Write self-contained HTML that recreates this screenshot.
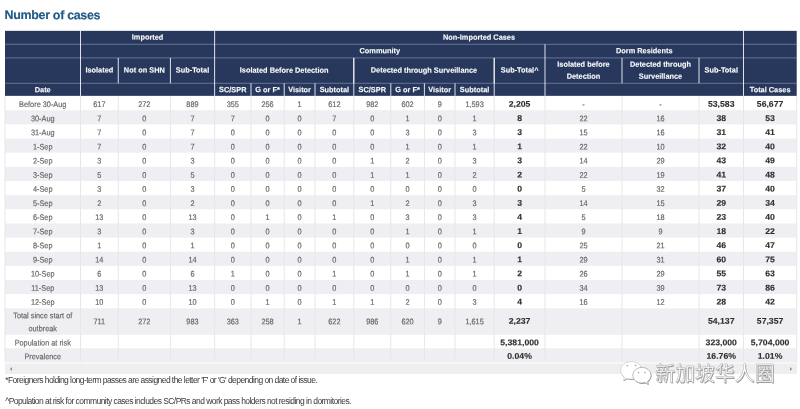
<!DOCTYPE html>
<html><head><meta charset="utf-8"><title>Number of cases</title>
<style>
html,body{margin:0;padding:0;background:#fff;}
body{width:800px;height:409px;overflow:hidden;position:relative;font-family:"Liberation Sans",sans-serif;}
div{position:absolute;box-sizing:border-box;}
h1{position:absolute;left:0;top:0;transform-origin:0 0;transform:translate(4.5px,8.1px) rotate(0.03deg);margin:0;font-size:12.45px;line-height:15px;font-weight:bold;color:#1e5985;-webkit-text-stroke:0.15px #1e5985;letter-spacing:-0.3px;white-space:nowrap;}
#w{left:0;top:0;width:800px;height:409px;will-change:transform;}
.c{left:0;top:0;text-align:center;white-space:nowrap;transform-origin:0 0;}
.d{font-size:8.1px;color:#666;-webkit-text-stroke:0.18px #666;line-height:10px;}
.b{font-size:8.3px;color:#2e2e2e;-webkit-text-stroke:0.12px #2e2e2e;font-weight:bold;line-height:10px;}
.h{font-size:7.6px;color:#f8fafc;-webkit-text-stroke:0.12px #f8fafc;font-weight:bold;line-height:11px;}
.st{background:#efeff3;}
.vl{background:#e1e1e4;}
.hb{background:#27375c;}
.hh{background:rgba(255,255,255,0.27);}
.hv{background:rgba(255,255,255,0.85);}
.scroll{left:5px;top:362.2px;width:791.7px;height:12.3px;background:linear-gradient(#f6f6f7 0,#f6f6f7 2.3px,#eeeeee 2.3px,#efefef 100%);}
.al{left:9.5px;top:367.3px;width:0;height:0;border:2.2px solid transparent;border-right:2.6px solid #8c8c8c;border-left:0;}
.ar{left:790px;top:367.3px;width:0;height:0;border:2.2px solid transparent;border-left:2.4px solid #8a8a8a;border-right:0;}
.fn{left:0;top:0;font-size:8.5px;color:#383838;letter-spacing:-0.56px;white-space:nowrap;line-height:10px;transform-origin:0 0;}
</style></head><body>
<div id="w"><svg width="800" height="409" viewBox="0 0 800 409" style="position:absolute;left:0;top:0"><rect x="5.00" y="110.25" width="791.70" height="14.15" fill="#efeff3"/><rect x="5.00" y="138.54" width="791.70" height="14.15" fill="#efeff3"/><rect x="5.00" y="166.83" width="791.70" height="14.15" fill="#efeff3"/><rect x="5.00" y="195.13" width="791.70" height="14.15" fill="#efeff3"/><rect x="5.00" y="223.42" width="791.70" height="14.15" fill="#efeff3"/><rect x="5.00" y="251.72" width="791.70" height="14.15" fill="#efeff3"/><rect x="5.00" y="280.01" width="791.70" height="14.15" fill="#efeff3"/><rect x="5.00" y="308.31" width="791.70" height="26.50" fill="#efeff3"/><rect x="5.00" y="348.30" width="791.70" height="13.90" fill="#efeff3"/><rect x="4.50" y="95.85" width="1.00" height="266.35" fill="#e7e7ea"/><rect x="80.00" y="95.85" width="1.00" height="266.35" fill="#e7e7ea"/><rect x="117.75" y="95.85" width="1.00" height="266.35" fill="#e7e7ea"/><rect x="169.90" y="95.85" width="1.00" height="266.35" fill="#e7e7ea"/><rect x="214.10" y="95.85" width="1.00" height="266.35" fill="#e7e7ea"/><rect x="250.50" y="95.85" width="1.00" height="266.35" fill="#e7e7ea"/><rect x="283.70" y="95.85" width="1.00" height="266.35" fill="#e7e7ea"/><rect x="314.50" y="95.85" width="1.00" height="266.35" fill="#e7e7ea"/><rect x="353.30" y="95.85" width="1.00" height="266.35" fill="#e7e7ea"/><rect x="390.30" y="95.85" width="1.00" height="266.35" fill="#e7e7ea"/><rect x="423.90" y="95.85" width="1.00" height="266.35" fill="#e7e7ea"/><rect x="454.50" y="95.85" width="1.00" height="266.35" fill="#e7e7ea"/><rect x="493.70" y="95.85" width="1.00" height="266.35" fill="#e7e7ea"/><rect x="544.50" y="95.85" width="1.00" height="266.35" fill="#e7e7ea"/><rect x="621.50" y="95.85" width="1.00" height="266.35" fill="#e7e7ea"/><rect x="698.50" y="95.85" width="1.00" height="266.35" fill="#e7e7ea"/><rect x="743.00" y="95.85" width="1.00" height="266.35" fill="#e7e7ea"/><rect x="796.20" y="95.85" width="1.00" height="266.35" fill="#e7e7ea"/><rect x="5.00" y="30.85" width="791.70" height="65.00" fill="#28385c"/><rect x="5.00" y="43.80" width="791.70" height="1.00" fill="rgba(205,220,255,0.36)"/><rect x="5.00" y="57.40" width="791.70" height="1.00" fill="rgba(205,220,255,0.36)"/><rect x="5.00" y="82.80" width="791.70" height="1.00" fill="rgba(205,220,255,0.36)"/><rect x="80.00" y="30.85" width="1.00" height="65.00" fill="rgba(255,255,255,0.85)"/><rect x="214.10" y="30.85" width="1.00" height="65.00" fill="rgba(255,255,255,0.85)"/><rect x="743.00" y="30.85" width="1.00" height="65.00" fill="rgba(255,255,255,0.85)"/><rect x="544.50" y="44.30" width="1.00" height="51.55" fill="rgba(255,255,255,0.85)"/><rect x="117.75" y="57.90" width="1.00" height="25.40" fill="rgba(255,255,255,0.85)"/><rect x="169.90" y="57.90" width="1.00" height="25.40" fill="rgba(255,255,255,0.85)"/><rect x="353.30" y="57.90" width="1.00" height="25.40" fill="rgba(255,255,255,0.85)"/><rect x="493.70" y="57.90" width="1.00" height="25.40" fill="rgba(255,255,255,0.85)"/><rect x="621.50" y="57.90" width="1.00" height="25.40" fill="rgba(255,255,255,0.85)"/><rect x="698.50" y="57.90" width="1.00" height="25.40" fill="rgba(255,255,255,0.85)"/><rect x="353.30" y="57.90" width="1.00" height="37.95" fill="rgba(255,255,255,0.85)"/><rect x="493.70" y="57.90" width="1.00" height="37.95" fill="rgba(255,255,255,0.85)"/><rect x="250.50" y="83.30" width="1.00" height="12.55" fill="rgba(255,255,255,0.85)"/><rect x="283.70" y="83.30" width="1.00" height="12.55" fill="rgba(255,255,255,0.85)"/><rect x="314.50" y="83.30" width="1.00" height="12.55" fill="rgba(255,255,255,0.85)"/><rect x="390.30" y="83.30" width="1.00" height="12.55" fill="rgba(255,255,255,0.85)"/><rect x="423.90" y="83.30" width="1.00" height="12.55" fill="rgba(255,255,255,0.85)"/><rect x="454.50" y="83.30" width="1.00" height="12.55" fill="rgba(255,255,255,0.85)"/></svg>
<h1>Number of cases</h1>
<div class="c h" style="width:138.25px;height:11px;line-height:11px;transform:translate(80.50px,31.58px) rotate(0.04deg) scale(0.97,1)">Imported</div>
<div class="c h" style="width:545.26px;height:11px;line-height:11px;transform:translate(214.60px,31.58px) rotate(0.04deg) scale(0.97,1)">Non-Imported Cases</div>
<div class="c h" style="width:340.62px;height:11px;line-height:11px;transform:translate(214.60px,45.10px) rotate(0.04deg) scale(0.97,1)">Community</div>
<div class="c h" style="width:204.64px;height:11px;line-height:11px;transform:translate(545.00px,45.10px) rotate(0.04deg) scale(0.97,1)">Dorm Residents</div>
<div class="c h" style="width:38.92px;height:11px;line-height:11px;transform:translate(80.50px,64.60px) rotate(0.04deg) scale(0.97,1)">Isolated</div>
<div class="c h" style="width:53.76px;height:11px;line-height:11px;transform:translate(118.25px,64.60px) rotate(0.04deg) scale(0.97,1)">Not on SHN</div>
<div class="c h" style="width:45.57px;height:11px;line-height:11px;transform:translate(170.40px,64.60px) rotate(0.04deg) scale(0.97,1)">Sub-Total</div>
<div class="c h" style="width:143.51px;height:11px;line-height:11px;transform:translate(214.60px,64.60px) rotate(0.04deg) scale(0.97,1)">Isolated Before Detection</div>
<div class="c h" style="width:144.74px;height:11px;line-height:11px;transform:translate(353.80px,64.60px) rotate(0.04deg) scale(0.97,1)">Detected through Surveillance</div>
<div class="c h" style="width:52.37px;height:11px;line-height:11px;transform:translate(494.20px,64.60px) rotate(0.04deg) scale(0.97,1)">Sub-Total^</div>
<div class="c h" style="width:79.38px;height:24px;line-height:12px;transform:translate(545.00px,58.80px) rotate(0.04deg) scale(0.97,1)">Isolated before<br>Detection</div>
<div class="c h" style="width:79.38px;height:24px;line-height:12px;transform:translate(622.00px,58.80px) rotate(0.04deg) scale(0.97,1)">Detected through<br>Surveillance</div>
<div class="c h" style="width:45.88px;height:11px;line-height:11px;transform:translate(699.00px,64.60px) rotate(0.04deg) scale(0.97,1)">Sub-Total</div>
<div class="c h" style="width:77.84px;height:11px;line-height:11px;transform:translate(5.00px,84.12px) rotate(0.04deg) scale(0.97,1)">Date</div>
<div class="c h" style="width:37.53px;height:11px;line-height:11px;transform:translate(214.60px,84.12px) rotate(0.04deg) scale(0.97,1)">SC/SPR</div>
<div class="c h" style="width:34.23px;height:11px;line-height:11px;transform:translate(251.00px,84.12px) rotate(0.04deg) scale(0.97,1)">G or F*</div>
<div class="c h" style="width:31.75px;height:11px;line-height:11px;transform:translate(284.20px,84.12px) rotate(0.04deg) scale(0.97,1)">Visitor</div>
<div class="c h" style="width:40.00px;height:11px;line-height:11px;transform:translate(315.00px,84.12px) rotate(0.04deg) scale(0.97,1)">Subtotal</div>
<div class="c h" style="width:38.14px;height:11px;line-height:11px;transform:translate(353.80px,84.12px) rotate(0.04deg) scale(0.97,1)">SC/SPR</div>
<div class="c h" style="width:34.64px;height:11px;line-height:11px;transform:translate(390.80px,84.12px) rotate(0.04deg) scale(0.97,1)">G or F*</div>
<div class="c h" style="width:31.55px;height:11px;line-height:11px;transform:translate(424.40px,84.12px) rotate(0.04deg) scale(0.97,1)">Visitor</div>
<div class="c h" style="width:40.41px;height:11px;line-height:11px;transform:translate(455.00px,84.12px) rotate(0.04deg) scale(0.97,1)">Subtotal</div>
<div class="c h" style="width:54.85px;height:11px;line-height:11px;transform:translate(743.50px,84.12px) rotate(0.04deg) scale(0.97,1)">Total Cases</div>
<div class="c d" style="width:83.43px;height:10px;line-height:10px;transform:translate(5.00px,100.03px) rotate(0.04deg) scale(0.905,1)">Before 30-Aug</div>
<div class="c d" style="width:41.71px;height:10px;line-height:10px;transform:translate(80.50px,100.03px) rotate(0.04deg) scale(0.905,1)">617</div>
<div class="c d" style="width:57.62px;height:10px;line-height:10px;transform:translate(118.25px,100.03px) rotate(0.04deg) scale(0.905,1)">272</div>
<div class="c d" style="width:48.84px;height:10px;line-height:10px;transform:translate(170.40px,100.03px) rotate(0.04deg) scale(0.905,1)">889</div>
<div class="c d" style="width:40.22px;height:10px;line-height:10px;transform:translate(214.60px,100.03px) rotate(0.04deg) scale(0.905,1)">355</div>
<div class="c d" style="width:36.69px;height:10px;line-height:10px;transform:translate(251.00px,100.03px) rotate(0.04deg) scale(0.905,1)">256</div>
<div class="c d" style="width:34.03px;height:10px;line-height:10px;transform:translate(284.20px,100.03px) rotate(0.04deg) scale(0.905,1)">1</div>
<div class="c d" style="width:42.87px;height:10px;line-height:10px;transform:translate(315.00px,100.03px) rotate(0.04deg) scale(0.905,1)">612</div>
<div class="c d" style="width:40.88px;height:10px;line-height:10px;transform:translate(353.80px,100.03px) rotate(0.04deg) scale(0.905,1)">982</div>
<div class="c d" style="width:37.13px;height:10px;line-height:10px;transform:translate(390.80px,100.03px) rotate(0.04deg) scale(0.905,1)">602</div>
<div class="c d" style="width:33.81px;height:10px;line-height:10px;transform:translate(424.40px,100.03px) rotate(0.04deg) scale(0.905,1)">9</div>
<div class="c d" style="width:43.31px;height:10px;line-height:10px;transform:translate(455.00px,100.03px) rotate(0.04deg) scale(0.905,1)">1,593</div>
<div class="c b" style="width:48.61px;height:10px;line-height:10px;transform:translate(494.20px,98.75px) rotate(0.04deg) scale(1.045,1)">2,205</div>
<div class="c d" style="width:85.08px;height:10px;line-height:10px;transform:translate(545.00px,100.03px) rotate(0.04deg) scale(0.905,1)">-</div>
<div class="c d" style="width:85.08px;height:10px;line-height:10px;transform:translate(622.00px,100.03px) rotate(0.04deg) scale(0.905,1)">-</div>
<div class="c b" style="width:42.58px;height:10px;line-height:10px;transform:translate(699.00px,98.75px) rotate(0.04deg) scale(1.045,1)">53,583</div>
<div class="c b" style="width:50.91px;height:10px;line-height:10px;transform:translate(743.50px,98.75px) rotate(0.04deg) scale(1.045,1)">56,677</div>
<div class="c d" style="width:83.43px;height:10px;line-height:10px;transform:translate(5.00px,114.16px) rotate(0.04deg) scale(0.905,1)">30-Aug</div>
<div class="c d" style="width:41.71px;height:10px;line-height:10px;transform:translate(80.50px,114.16px) rotate(0.04deg) scale(0.905,1)">7</div>
<div class="c d" style="width:57.62px;height:10px;line-height:10px;transform:translate(118.25px,114.16px) rotate(0.04deg) scale(0.905,1)">0</div>
<div class="c d" style="width:48.84px;height:10px;line-height:10px;transform:translate(170.40px,114.16px) rotate(0.04deg) scale(0.905,1)">7</div>
<div class="c d" style="width:40.22px;height:10px;line-height:10px;transform:translate(214.60px,114.16px) rotate(0.04deg) scale(0.905,1)">7</div>
<div class="c d" style="width:36.69px;height:10px;line-height:10px;transform:translate(251.00px,114.16px) rotate(0.04deg) scale(0.905,1)">0</div>
<div class="c d" style="width:34.03px;height:10px;line-height:10px;transform:translate(284.20px,114.16px) rotate(0.04deg) scale(0.905,1)">0</div>
<div class="c d" style="width:42.87px;height:10px;line-height:10px;transform:translate(315.00px,114.16px) rotate(0.04deg) scale(0.905,1)">7</div>
<div class="c d" style="width:40.88px;height:10px;line-height:10px;transform:translate(353.80px,114.16px) rotate(0.04deg) scale(0.905,1)">0</div>
<div class="c d" style="width:37.13px;height:10px;line-height:10px;transform:translate(390.80px,114.16px) rotate(0.04deg) scale(0.905,1)">1</div>
<div class="c d" style="width:33.81px;height:10px;line-height:10px;transform:translate(424.40px,114.16px) rotate(0.04deg) scale(0.905,1)">0</div>
<div class="c d" style="width:43.31px;height:10px;line-height:10px;transform:translate(455.00px,114.16px) rotate(0.04deg) scale(0.905,1)">1</div>
<div class="c b" style="width:48.61px;height:10px;line-height:10px;transform:translate(494.20px,112.88px) rotate(0.04deg) scale(1.045,1)">8</div>
<div class="c d" style="width:85.08px;height:10px;line-height:10px;transform:translate(545.00px,114.16px) rotate(0.04deg) scale(0.905,1)">22</div>
<div class="c d" style="width:85.08px;height:10px;line-height:10px;transform:translate(622.00px,114.16px) rotate(0.04deg) scale(0.905,1)">16</div>
<div class="c b" style="width:42.58px;height:10px;line-height:10px;transform:translate(699.00px,112.88px) rotate(0.04deg) scale(1.045,1)">38</div>
<div class="c b" style="width:50.91px;height:10px;line-height:10px;transform:translate(743.50px,112.88px) rotate(0.04deg) scale(1.045,1)">53</div>
<div class="c d" style="width:83.43px;height:10px;line-height:10px;transform:translate(5.00px,128.28px) rotate(0.04deg) scale(0.905,1)">31-Aug</div>
<div class="c d" style="width:41.71px;height:10px;line-height:10px;transform:translate(80.50px,128.28px) rotate(0.04deg) scale(0.905,1)">7</div>
<div class="c d" style="width:57.62px;height:10px;line-height:10px;transform:translate(118.25px,128.28px) rotate(0.04deg) scale(0.905,1)">0</div>
<div class="c d" style="width:48.84px;height:10px;line-height:10px;transform:translate(170.40px,128.28px) rotate(0.04deg) scale(0.905,1)">7</div>
<div class="c d" style="width:40.22px;height:10px;line-height:10px;transform:translate(214.60px,128.28px) rotate(0.04deg) scale(0.905,1)">0</div>
<div class="c d" style="width:36.69px;height:10px;line-height:10px;transform:translate(251.00px,128.28px) rotate(0.04deg) scale(0.905,1)">0</div>
<div class="c d" style="width:34.03px;height:10px;line-height:10px;transform:translate(284.20px,128.28px) rotate(0.04deg) scale(0.905,1)">0</div>
<div class="c d" style="width:42.87px;height:10px;line-height:10px;transform:translate(315.00px,128.28px) rotate(0.04deg) scale(0.905,1)">0</div>
<div class="c d" style="width:40.88px;height:10px;line-height:10px;transform:translate(353.80px,128.28px) rotate(0.04deg) scale(0.905,1)">0</div>
<div class="c d" style="width:37.13px;height:10px;line-height:10px;transform:translate(390.80px,128.28px) rotate(0.04deg) scale(0.905,1)">3</div>
<div class="c d" style="width:33.81px;height:10px;line-height:10px;transform:translate(424.40px,128.28px) rotate(0.04deg) scale(0.905,1)">0</div>
<div class="c d" style="width:43.31px;height:10px;line-height:10px;transform:translate(455.00px,128.28px) rotate(0.04deg) scale(0.905,1)">3</div>
<div class="c b" style="width:48.61px;height:10px;line-height:10px;transform:translate(494.20px,127.00px) rotate(0.04deg) scale(1.045,1)">3</div>
<div class="c d" style="width:85.08px;height:10px;line-height:10px;transform:translate(545.00px,128.28px) rotate(0.04deg) scale(0.905,1)">15</div>
<div class="c d" style="width:85.08px;height:10px;line-height:10px;transform:translate(622.00px,128.28px) rotate(0.04deg) scale(0.905,1)">16</div>
<div class="c b" style="width:42.58px;height:10px;line-height:10px;transform:translate(699.00px,127.00px) rotate(0.04deg) scale(1.045,1)">31</div>
<div class="c b" style="width:50.91px;height:10px;line-height:10px;transform:translate(743.50px,127.00px) rotate(0.04deg) scale(1.045,1)">41</div>
<div class="c d" style="width:83.43px;height:10px;line-height:10px;transform:translate(5.00px,142.41px) rotate(0.04deg) scale(0.905,1)">1-Sep</div>
<div class="c d" style="width:41.71px;height:10px;line-height:10px;transform:translate(80.50px,142.41px) rotate(0.04deg) scale(0.905,1)">7</div>
<div class="c d" style="width:57.62px;height:10px;line-height:10px;transform:translate(118.25px,142.41px) rotate(0.04deg) scale(0.905,1)">0</div>
<div class="c d" style="width:48.84px;height:10px;line-height:10px;transform:translate(170.40px,142.41px) rotate(0.04deg) scale(0.905,1)">7</div>
<div class="c d" style="width:40.22px;height:10px;line-height:10px;transform:translate(214.60px,142.41px) rotate(0.04deg) scale(0.905,1)">0</div>
<div class="c d" style="width:36.69px;height:10px;line-height:10px;transform:translate(251.00px,142.41px) rotate(0.04deg) scale(0.905,1)">0</div>
<div class="c d" style="width:34.03px;height:10px;line-height:10px;transform:translate(284.20px,142.41px) rotate(0.04deg) scale(0.905,1)">0</div>
<div class="c d" style="width:42.87px;height:10px;line-height:10px;transform:translate(315.00px,142.41px) rotate(0.04deg) scale(0.905,1)">0</div>
<div class="c d" style="width:40.88px;height:10px;line-height:10px;transform:translate(353.80px,142.41px) rotate(0.04deg) scale(0.905,1)">0</div>
<div class="c d" style="width:37.13px;height:10px;line-height:10px;transform:translate(390.80px,142.41px) rotate(0.04deg) scale(0.905,1)">1</div>
<div class="c d" style="width:33.81px;height:10px;line-height:10px;transform:translate(424.40px,142.41px) rotate(0.04deg) scale(0.905,1)">0</div>
<div class="c d" style="width:43.31px;height:10px;line-height:10px;transform:translate(455.00px,142.41px) rotate(0.04deg) scale(0.905,1)">1</div>
<div class="c b" style="width:48.61px;height:10px;line-height:10px;transform:translate(494.20px,141.13px) rotate(0.04deg) scale(1.045,1)">1</div>
<div class="c d" style="width:85.08px;height:10px;line-height:10px;transform:translate(545.00px,142.41px) rotate(0.04deg) scale(0.905,1)">22</div>
<div class="c d" style="width:85.08px;height:10px;line-height:10px;transform:translate(622.00px,142.41px) rotate(0.04deg) scale(0.905,1)">10</div>
<div class="c b" style="width:42.58px;height:10px;line-height:10px;transform:translate(699.00px,141.13px) rotate(0.04deg) scale(1.045,1)">32</div>
<div class="c b" style="width:50.91px;height:10px;line-height:10px;transform:translate(743.50px,141.13px) rotate(0.04deg) scale(1.045,1)">40</div>
<div class="c d" style="width:83.43px;height:10px;line-height:10px;transform:translate(5.00px,156.54px) rotate(0.04deg) scale(0.905,1)">2-Sep</div>
<div class="c d" style="width:41.71px;height:10px;line-height:10px;transform:translate(80.50px,156.54px) rotate(0.04deg) scale(0.905,1)">3</div>
<div class="c d" style="width:57.62px;height:10px;line-height:10px;transform:translate(118.25px,156.54px) rotate(0.04deg) scale(0.905,1)">0</div>
<div class="c d" style="width:48.84px;height:10px;line-height:10px;transform:translate(170.40px,156.54px) rotate(0.04deg) scale(0.905,1)">3</div>
<div class="c d" style="width:40.22px;height:10px;line-height:10px;transform:translate(214.60px,156.54px) rotate(0.04deg) scale(0.905,1)">0</div>
<div class="c d" style="width:36.69px;height:10px;line-height:10px;transform:translate(251.00px,156.54px) rotate(0.04deg) scale(0.905,1)">0</div>
<div class="c d" style="width:34.03px;height:10px;line-height:10px;transform:translate(284.20px,156.54px) rotate(0.04deg) scale(0.905,1)">0</div>
<div class="c d" style="width:42.87px;height:10px;line-height:10px;transform:translate(315.00px,156.54px) rotate(0.04deg) scale(0.905,1)">0</div>
<div class="c d" style="width:40.88px;height:10px;line-height:10px;transform:translate(353.80px,156.54px) rotate(0.04deg) scale(0.905,1)">1</div>
<div class="c d" style="width:37.13px;height:10px;line-height:10px;transform:translate(390.80px,156.54px) rotate(0.04deg) scale(0.905,1)">2</div>
<div class="c d" style="width:33.81px;height:10px;line-height:10px;transform:translate(424.40px,156.54px) rotate(0.04deg) scale(0.905,1)">0</div>
<div class="c d" style="width:43.31px;height:10px;line-height:10px;transform:translate(455.00px,156.54px) rotate(0.04deg) scale(0.905,1)">3</div>
<div class="c b" style="width:48.61px;height:10px;line-height:10px;transform:translate(494.20px,155.26px) rotate(0.04deg) scale(1.045,1)">3</div>
<div class="c d" style="width:85.08px;height:10px;line-height:10px;transform:translate(545.00px,156.54px) rotate(0.04deg) scale(0.905,1)">14</div>
<div class="c d" style="width:85.08px;height:10px;line-height:10px;transform:translate(622.00px,156.54px) rotate(0.04deg) scale(0.905,1)">29</div>
<div class="c b" style="width:42.58px;height:10px;line-height:10px;transform:translate(699.00px,155.26px) rotate(0.04deg) scale(1.045,1)">43</div>
<div class="c b" style="width:50.91px;height:10px;line-height:10px;transform:translate(743.50px,155.26px) rotate(0.04deg) scale(1.045,1)">49</div>
<div class="c d" style="width:83.43px;height:10px;line-height:10px;transform:translate(5.00px,170.66px) rotate(0.04deg) scale(0.905,1)">3-Sep</div>
<div class="c d" style="width:41.71px;height:10px;line-height:10px;transform:translate(80.50px,170.66px) rotate(0.04deg) scale(0.905,1)">5</div>
<div class="c d" style="width:57.62px;height:10px;line-height:10px;transform:translate(118.25px,170.66px) rotate(0.04deg) scale(0.905,1)">0</div>
<div class="c d" style="width:48.84px;height:10px;line-height:10px;transform:translate(170.40px,170.66px) rotate(0.04deg) scale(0.905,1)">5</div>
<div class="c d" style="width:40.22px;height:10px;line-height:10px;transform:translate(214.60px,170.66px) rotate(0.04deg) scale(0.905,1)">0</div>
<div class="c d" style="width:36.69px;height:10px;line-height:10px;transform:translate(251.00px,170.66px) rotate(0.04deg) scale(0.905,1)">0</div>
<div class="c d" style="width:34.03px;height:10px;line-height:10px;transform:translate(284.20px,170.66px) rotate(0.04deg) scale(0.905,1)">0</div>
<div class="c d" style="width:42.87px;height:10px;line-height:10px;transform:translate(315.00px,170.66px) rotate(0.04deg) scale(0.905,1)">0</div>
<div class="c d" style="width:40.88px;height:10px;line-height:10px;transform:translate(353.80px,170.66px) rotate(0.04deg) scale(0.905,1)">1</div>
<div class="c d" style="width:37.13px;height:10px;line-height:10px;transform:translate(390.80px,170.66px) rotate(0.04deg) scale(0.905,1)">1</div>
<div class="c d" style="width:33.81px;height:10px;line-height:10px;transform:translate(424.40px,170.66px) rotate(0.04deg) scale(0.905,1)">0</div>
<div class="c d" style="width:43.31px;height:10px;line-height:10px;transform:translate(455.00px,170.66px) rotate(0.04deg) scale(0.905,1)">2</div>
<div class="c b" style="width:48.61px;height:10px;line-height:10px;transform:translate(494.20px,169.38px) rotate(0.04deg) scale(1.045,1)">2</div>
<div class="c d" style="width:85.08px;height:10px;line-height:10px;transform:translate(545.00px,170.66px) rotate(0.04deg) scale(0.905,1)">22</div>
<div class="c d" style="width:85.08px;height:10px;line-height:10px;transform:translate(622.00px,170.66px) rotate(0.04deg) scale(0.905,1)">19</div>
<div class="c b" style="width:42.58px;height:10px;line-height:10px;transform:translate(699.00px,169.38px) rotate(0.04deg) scale(1.045,1)">41</div>
<div class="c b" style="width:50.91px;height:10px;line-height:10px;transform:translate(743.50px,169.38px) rotate(0.04deg) scale(1.045,1)">48</div>
<div class="c d" style="width:83.43px;height:10px;line-height:10px;transform:translate(5.00px,184.79px) rotate(0.04deg) scale(0.905,1)">4-Sep</div>
<div class="c d" style="width:41.71px;height:10px;line-height:10px;transform:translate(80.50px,184.79px) rotate(0.04deg) scale(0.905,1)">3</div>
<div class="c d" style="width:57.62px;height:10px;line-height:10px;transform:translate(118.25px,184.79px) rotate(0.04deg) scale(0.905,1)">0</div>
<div class="c d" style="width:48.84px;height:10px;line-height:10px;transform:translate(170.40px,184.79px) rotate(0.04deg) scale(0.905,1)">3</div>
<div class="c d" style="width:40.22px;height:10px;line-height:10px;transform:translate(214.60px,184.79px) rotate(0.04deg) scale(0.905,1)">0</div>
<div class="c d" style="width:36.69px;height:10px;line-height:10px;transform:translate(251.00px,184.79px) rotate(0.04deg) scale(0.905,1)">0</div>
<div class="c d" style="width:34.03px;height:10px;line-height:10px;transform:translate(284.20px,184.79px) rotate(0.04deg) scale(0.905,1)">0</div>
<div class="c d" style="width:42.87px;height:10px;line-height:10px;transform:translate(315.00px,184.79px) rotate(0.04deg) scale(0.905,1)">0</div>
<div class="c d" style="width:40.88px;height:10px;line-height:10px;transform:translate(353.80px,184.79px) rotate(0.04deg) scale(0.905,1)">0</div>
<div class="c d" style="width:37.13px;height:10px;line-height:10px;transform:translate(390.80px,184.79px) rotate(0.04deg) scale(0.905,1)">0</div>
<div class="c d" style="width:33.81px;height:10px;line-height:10px;transform:translate(424.40px,184.79px) rotate(0.04deg) scale(0.905,1)">0</div>
<div class="c d" style="width:43.31px;height:10px;line-height:10px;transform:translate(455.00px,184.79px) rotate(0.04deg) scale(0.905,1)">0</div>
<div class="c b" style="width:48.61px;height:10px;line-height:10px;transform:translate(494.20px,183.51px) rotate(0.04deg) scale(1.045,1)">0</div>
<div class="c d" style="width:85.08px;height:10px;line-height:10px;transform:translate(545.00px,184.79px) rotate(0.04deg) scale(0.905,1)">5</div>
<div class="c d" style="width:85.08px;height:10px;line-height:10px;transform:translate(622.00px,184.79px) rotate(0.04deg) scale(0.905,1)">32</div>
<div class="c b" style="width:42.58px;height:10px;line-height:10px;transform:translate(699.00px,183.51px) rotate(0.04deg) scale(1.045,1)">37</div>
<div class="c b" style="width:50.91px;height:10px;line-height:10px;transform:translate(743.50px,183.51px) rotate(0.04deg) scale(1.045,1)">40</div>
<div class="c d" style="width:83.43px;height:10px;line-height:10px;transform:translate(5.00px,198.92px) rotate(0.04deg) scale(0.905,1)">5-Sep</div>
<div class="c d" style="width:41.71px;height:10px;line-height:10px;transform:translate(80.50px,198.92px) rotate(0.04deg) scale(0.905,1)">2</div>
<div class="c d" style="width:57.62px;height:10px;line-height:10px;transform:translate(118.25px,198.92px) rotate(0.04deg) scale(0.905,1)">0</div>
<div class="c d" style="width:48.84px;height:10px;line-height:10px;transform:translate(170.40px,198.92px) rotate(0.04deg) scale(0.905,1)">2</div>
<div class="c d" style="width:40.22px;height:10px;line-height:10px;transform:translate(214.60px,198.92px) rotate(0.04deg) scale(0.905,1)">0</div>
<div class="c d" style="width:36.69px;height:10px;line-height:10px;transform:translate(251.00px,198.92px) rotate(0.04deg) scale(0.905,1)">0</div>
<div class="c d" style="width:34.03px;height:10px;line-height:10px;transform:translate(284.20px,198.92px) rotate(0.04deg) scale(0.905,1)">0</div>
<div class="c d" style="width:42.87px;height:10px;line-height:10px;transform:translate(315.00px,198.92px) rotate(0.04deg) scale(0.905,1)">0</div>
<div class="c d" style="width:40.88px;height:10px;line-height:10px;transform:translate(353.80px,198.92px) rotate(0.04deg) scale(0.905,1)">1</div>
<div class="c d" style="width:37.13px;height:10px;line-height:10px;transform:translate(390.80px,198.92px) rotate(0.04deg) scale(0.905,1)">2</div>
<div class="c d" style="width:33.81px;height:10px;line-height:10px;transform:translate(424.40px,198.92px) rotate(0.04deg) scale(0.905,1)">0</div>
<div class="c d" style="width:43.31px;height:10px;line-height:10px;transform:translate(455.00px,198.92px) rotate(0.04deg) scale(0.905,1)">3</div>
<div class="c b" style="width:48.61px;height:10px;line-height:10px;transform:translate(494.20px,197.64px) rotate(0.04deg) scale(1.045,1)">3</div>
<div class="c d" style="width:85.08px;height:10px;line-height:10px;transform:translate(545.00px,198.92px) rotate(0.04deg) scale(0.905,1)">14</div>
<div class="c d" style="width:85.08px;height:10px;line-height:10px;transform:translate(622.00px,198.92px) rotate(0.04deg) scale(0.905,1)">15</div>
<div class="c b" style="width:42.58px;height:10px;line-height:10px;transform:translate(699.00px,197.64px) rotate(0.04deg) scale(1.045,1)">29</div>
<div class="c b" style="width:50.91px;height:10px;line-height:10px;transform:translate(743.50px,197.64px) rotate(0.04deg) scale(1.045,1)">34</div>
<div class="c d" style="width:83.43px;height:10px;line-height:10px;transform:translate(5.00px,213.05px) rotate(0.04deg) scale(0.905,1)">6-Sep</div>
<div class="c d" style="width:41.71px;height:10px;line-height:10px;transform:translate(80.50px,213.05px) rotate(0.04deg) scale(0.905,1)">13</div>
<div class="c d" style="width:57.62px;height:10px;line-height:10px;transform:translate(118.25px,213.05px) rotate(0.04deg) scale(0.905,1)">0</div>
<div class="c d" style="width:48.84px;height:10px;line-height:10px;transform:translate(170.40px,213.05px) rotate(0.04deg) scale(0.905,1)">13</div>
<div class="c d" style="width:40.22px;height:10px;line-height:10px;transform:translate(214.60px,213.05px) rotate(0.04deg) scale(0.905,1)">0</div>
<div class="c d" style="width:36.69px;height:10px;line-height:10px;transform:translate(251.00px,213.05px) rotate(0.04deg) scale(0.905,1)">1</div>
<div class="c d" style="width:34.03px;height:10px;line-height:10px;transform:translate(284.20px,213.05px) rotate(0.04deg) scale(0.905,1)">0</div>
<div class="c d" style="width:42.87px;height:10px;line-height:10px;transform:translate(315.00px,213.05px) rotate(0.04deg) scale(0.905,1)">1</div>
<div class="c d" style="width:40.88px;height:10px;line-height:10px;transform:translate(353.80px,213.05px) rotate(0.04deg) scale(0.905,1)">0</div>
<div class="c d" style="width:37.13px;height:10px;line-height:10px;transform:translate(390.80px,213.05px) rotate(0.04deg) scale(0.905,1)">3</div>
<div class="c d" style="width:33.81px;height:10px;line-height:10px;transform:translate(424.40px,213.05px) rotate(0.04deg) scale(0.905,1)">0</div>
<div class="c d" style="width:43.31px;height:10px;line-height:10px;transform:translate(455.00px,213.05px) rotate(0.04deg) scale(0.905,1)">3</div>
<div class="c b" style="width:48.61px;height:10px;line-height:10px;transform:translate(494.20px,211.77px) rotate(0.04deg) scale(1.045,1)">4</div>
<div class="c d" style="width:85.08px;height:10px;line-height:10px;transform:translate(545.00px,213.05px) rotate(0.04deg) scale(0.905,1)">5</div>
<div class="c d" style="width:85.08px;height:10px;line-height:10px;transform:translate(622.00px,213.05px) rotate(0.04deg) scale(0.905,1)">18</div>
<div class="c b" style="width:42.58px;height:10px;line-height:10px;transform:translate(699.00px,211.77px) rotate(0.04deg) scale(1.045,1)">23</div>
<div class="c b" style="width:50.91px;height:10px;line-height:10px;transform:translate(743.50px,211.77px) rotate(0.04deg) scale(1.045,1)">40</div>
<div class="c d" style="width:83.43px;height:10px;line-height:10px;transform:translate(5.00px,227.17px) rotate(0.04deg) scale(0.905,1)">7-Sep</div>
<div class="c d" style="width:41.71px;height:10px;line-height:10px;transform:translate(80.50px,227.17px) rotate(0.04deg) scale(0.905,1)">3</div>
<div class="c d" style="width:57.62px;height:10px;line-height:10px;transform:translate(118.25px,227.17px) rotate(0.04deg) scale(0.905,1)">0</div>
<div class="c d" style="width:48.84px;height:10px;line-height:10px;transform:translate(170.40px,227.17px) rotate(0.04deg) scale(0.905,1)">3</div>
<div class="c d" style="width:40.22px;height:10px;line-height:10px;transform:translate(214.60px,227.17px) rotate(0.04deg) scale(0.905,1)">0</div>
<div class="c d" style="width:36.69px;height:10px;line-height:10px;transform:translate(251.00px,227.17px) rotate(0.04deg) scale(0.905,1)">0</div>
<div class="c d" style="width:34.03px;height:10px;line-height:10px;transform:translate(284.20px,227.17px) rotate(0.04deg) scale(0.905,1)">0</div>
<div class="c d" style="width:42.87px;height:10px;line-height:10px;transform:translate(315.00px,227.17px) rotate(0.04deg) scale(0.905,1)">0</div>
<div class="c d" style="width:40.88px;height:10px;line-height:10px;transform:translate(353.80px,227.17px) rotate(0.04deg) scale(0.905,1)">0</div>
<div class="c d" style="width:37.13px;height:10px;line-height:10px;transform:translate(390.80px,227.17px) rotate(0.04deg) scale(0.905,1)">1</div>
<div class="c d" style="width:33.81px;height:10px;line-height:10px;transform:translate(424.40px,227.17px) rotate(0.04deg) scale(0.905,1)">0</div>
<div class="c d" style="width:43.31px;height:10px;line-height:10px;transform:translate(455.00px,227.17px) rotate(0.04deg) scale(0.905,1)">1</div>
<div class="c b" style="width:48.61px;height:10px;line-height:10px;transform:translate(494.20px,225.89px) rotate(0.04deg) scale(1.045,1)">1</div>
<div class="c d" style="width:85.08px;height:10px;line-height:10px;transform:translate(545.00px,227.17px) rotate(0.04deg) scale(0.905,1)">9</div>
<div class="c d" style="width:85.08px;height:10px;line-height:10px;transform:translate(622.00px,227.17px) rotate(0.04deg) scale(0.905,1)">9</div>
<div class="c b" style="width:42.58px;height:10px;line-height:10px;transform:translate(699.00px,225.89px) rotate(0.04deg) scale(1.045,1)">18</div>
<div class="c b" style="width:50.91px;height:10px;line-height:10px;transform:translate(743.50px,225.89px) rotate(0.04deg) scale(1.045,1)">22</div>
<div class="c d" style="width:83.43px;height:10px;line-height:10px;transform:translate(5.00px,241.30px) rotate(0.04deg) scale(0.905,1)">8-Sep</div>
<div class="c d" style="width:41.71px;height:10px;line-height:10px;transform:translate(80.50px,241.30px) rotate(0.04deg) scale(0.905,1)">1</div>
<div class="c d" style="width:57.62px;height:10px;line-height:10px;transform:translate(118.25px,241.30px) rotate(0.04deg) scale(0.905,1)">0</div>
<div class="c d" style="width:48.84px;height:10px;line-height:10px;transform:translate(170.40px,241.30px) rotate(0.04deg) scale(0.905,1)">1</div>
<div class="c d" style="width:40.22px;height:10px;line-height:10px;transform:translate(214.60px,241.30px) rotate(0.04deg) scale(0.905,1)">0</div>
<div class="c d" style="width:36.69px;height:10px;line-height:10px;transform:translate(251.00px,241.30px) rotate(0.04deg) scale(0.905,1)">0</div>
<div class="c d" style="width:34.03px;height:10px;line-height:10px;transform:translate(284.20px,241.30px) rotate(0.04deg) scale(0.905,1)">0</div>
<div class="c d" style="width:42.87px;height:10px;line-height:10px;transform:translate(315.00px,241.30px) rotate(0.04deg) scale(0.905,1)">0</div>
<div class="c d" style="width:40.88px;height:10px;line-height:10px;transform:translate(353.80px,241.30px) rotate(0.04deg) scale(0.905,1)">0</div>
<div class="c d" style="width:37.13px;height:10px;line-height:10px;transform:translate(390.80px,241.30px) rotate(0.04deg) scale(0.905,1)">0</div>
<div class="c d" style="width:33.81px;height:10px;line-height:10px;transform:translate(424.40px,241.30px) rotate(0.04deg) scale(0.905,1)">0</div>
<div class="c d" style="width:43.31px;height:10px;line-height:10px;transform:translate(455.00px,241.30px) rotate(0.04deg) scale(0.905,1)">0</div>
<div class="c b" style="width:48.61px;height:10px;line-height:10px;transform:translate(494.20px,240.02px) rotate(0.04deg) scale(1.045,1)">0</div>
<div class="c d" style="width:85.08px;height:10px;line-height:10px;transform:translate(545.00px,241.30px) rotate(0.04deg) scale(0.905,1)">25</div>
<div class="c d" style="width:85.08px;height:10px;line-height:10px;transform:translate(622.00px,241.30px) rotate(0.04deg) scale(0.905,1)">21</div>
<div class="c b" style="width:42.58px;height:10px;line-height:10px;transform:translate(699.00px,240.02px) rotate(0.04deg) scale(1.045,1)">46</div>
<div class="c b" style="width:50.91px;height:10px;line-height:10px;transform:translate(743.50px,240.02px) rotate(0.04deg) scale(1.045,1)">47</div>
<div class="c d" style="width:83.43px;height:10px;line-height:10px;transform:translate(5.00px,255.43px) rotate(0.04deg) scale(0.905,1)">9-Sep</div>
<div class="c d" style="width:41.71px;height:10px;line-height:10px;transform:translate(80.50px,255.43px) rotate(0.04deg) scale(0.905,1)">14</div>
<div class="c d" style="width:57.62px;height:10px;line-height:10px;transform:translate(118.25px,255.43px) rotate(0.04deg) scale(0.905,1)">0</div>
<div class="c d" style="width:48.84px;height:10px;line-height:10px;transform:translate(170.40px,255.43px) rotate(0.04deg) scale(0.905,1)">14</div>
<div class="c d" style="width:40.22px;height:10px;line-height:10px;transform:translate(214.60px,255.43px) rotate(0.04deg) scale(0.905,1)">0</div>
<div class="c d" style="width:36.69px;height:10px;line-height:10px;transform:translate(251.00px,255.43px) rotate(0.04deg) scale(0.905,1)">0</div>
<div class="c d" style="width:34.03px;height:10px;line-height:10px;transform:translate(284.20px,255.43px) rotate(0.04deg) scale(0.905,1)">0</div>
<div class="c d" style="width:42.87px;height:10px;line-height:10px;transform:translate(315.00px,255.43px) rotate(0.04deg) scale(0.905,1)">0</div>
<div class="c d" style="width:40.88px;height:10px;line-height:10px;transform:translate(353.80px,255.43px) rotate(0.04deg) scale(0.905,1)">0</div>
<div class="c d" style="width:37.13px;height:10px;line-height:10px;transform:translate(390.80px,255.43px) rotate(0.04deg) scale(0.905,1)">1</div>
<div class="c d" style="width:33.81px;height:10px;line-height:10px;transform:translate(424.40px,255.43px) rotate(0.04deg) scale(0.905,1)">0</div>
<div class="c d" style="width:43.31px;height:10px;line-height:10px;transform:translate(455.00px,255.43px) rotate(0.04deg) scale(0.905,1)">1</div>
<div class="c b" style="width:48.61px;height:10px;line-height:10px;transform:translate(494.20px,254.15px) rotate(0.04deg) scale(1.045,1)">1</div>
<div class="c d" style="width:85.08px;height:10px;line-height:10px;transform:translate(545.00px,255.43px) rotate(0.04deg) scale(0.905,1)">29</div>
<div class="c d" style="width:85.08px;height:10px;line-height:10px;transform:translate(622.00px,255.43px) rotate(0.04deg) scale(0.905,1)">31</div>
<div class="c b" style="width:42.58px;height:10px;line-height:10px;transform:translate(699.00px,254.15px) rotate(0.04deg) scale(1.045,1)">60</div>
<div class="c b" style="width:50.91px;height:10px;line-height:10px;transform:translate(743.50px,254.15px) rotate(0.04deg) scale(1.045,1)">75</div>
<div class="c d" style="width:83.43px;height:10px;line-height:10px;transform:translate(5.00px,269.55px) rotate(0.04deg) scale(0.905,1)">10-Sep</div>
<div class="c d" style="width:41.71px;height:10px;line-height:10px;transform:translate(80.50px,269.55px) rotate(0.04deg) scale(0.905,1)">6</div>
<div class="c d" style="width:57.62px;height:10px;line-height:10px;transform:translate(118.25px,269.55px) rotate(0.04deg) scale(0.905,1)">0</div>
<div class="c d" style="width:48.84px;height:10px;line-height:10px;transform:translate(170.40px,269.55px) rotate(0.04deg) scale(0.905,1)">6</div>
<div class="c d" style="width:40.22px;height:10px;line-height:10px;transform:translate(214.60px,269.55px) rotate(0.04deg) scale(0.905,1)">1</div>
<div class="c d" style="width:36.69px;height:10px;line-height:10px;transform:translate(251.00px,269.55px) rotate(0.04deg) scale(0.905,1)">0</div>
<div class="c d" style="width:34.03px;height:10px;line-height:10px;transform:translate(284.20px,269.55px) rotate(0.04deg) scale(0.905,1)">0</div>
<div class="c d" style="width:42.87px;height:10px;line-height:10px;transform:translate(315.00px,269.55px) rotate(0.04deg) scale(0.905,1)">1</div>
<div class="c d" style="width:40.88px;height:10px;line-height:10px;transform:translate(353.80px,269.55px) rotate(0.04deg) scale(0.905,1)">0</div>
<div class="c d" style="width:37.13px;height:10px;line-height:10px;transform:translate(390.80px,269.55px) rotate(0.04deg) scale(0.905,1)">1</div>
<div class="c d" style="width:33.81px;height:10px;line-height:10px;transform:translate(424.40px,269.55px) rotate(0.04deg) scale(0.905,1)">0</div>
<div class="c d" style="width:43.31px;height:10px;line-height:10px;transform:translate(455.00px,269.55px) rotate(0.04deg) scale(0.905,1)">1</div>
<div class="c b" style="width:48.61px;height:10px;line-height:10px;transform:translate(494.20px,268.27px) rotate(0.04deg) scale(1.045,1)">2</div>
<div class="c d" style="width:85.08px;height:10px;line-height:10px;transform:translate(545.00px,269.55px) rotate(0.04deg) scale(0.905,1)">26</div>
<div class="c d" style="width:85.08px;height:10px;line-height:10px;transform:translate(622.00px,269.55px) rotate(0.04deg) scale(0.905,1)">29</div>
<div class="c b" style="width:42.58px;height:10px;line-height:10px;transform:translate(699.00px,268.27px) rotate(0.04deg) scale(1.045,1)">55</div>
<div class="c b" style="width:50.91px;height:10px;line-height:10px;transform:translate(743.50px,268.27px) rotate(0.04deg) scale(1.045,1)">63</div>
<div class="c d" style="width:83.43px;height:10px;line-height:10px;transform:translate(5.00px,283.68px) rotate(0.04deg) scale(0.905,1)">11-Sep</div>
<div class="c d" style="width:41.71px;height:10px;line-height:10px;transform:translate(80.50px,283.68px) rotate(0.04deg) scale(0.905,1)">13</div>
<div class="c d" style="width:57.62px;height:10px;line-height:10px;transform:translate(118.25px,283.68px) rotate(0.04deg) scale(0.905,1)">0</div>
<div class="c d" style="width:48.84px;height:10px;line-height:10px;transform:translate(170.40px,283.68px) rotate(0.04deg) scale(0.905,1)">13</div>
<div class="c d" style="width:40.22px;height:10px;line-height:10px;transform:translate(214.60px,283.68px) rotate(0.04deg) scale(0.905,1)">0</div>
<div class="c d" style="width:36.69px;height:10px;line-height:10px;transform:translate(251.00px,283.68px) rotate(0.04deg) scale(0.905,1)">0</div>
<div class="c d" style="width:34.03px;height:10px;line-height:10px;transform:translate(284.20px,283.68px) rotate(0.04deg) scale(0.905,1)">0</div>
<div class="c d" style="width:42.87px;height:10px;line-height:10px;transform:translate(315.00px,283.68px) rotate(0.04deg) scale(0.905,1)">0</div>
<div class="c d" style="width:40.88px;height:10px;line-height:10px;transform:translate(353.80px,283.68px) rotate(0.04deg) scale(0.905,1)">0</div>
<div class="c d" style="width:37.13px;height:10px;line-height:10px;transform:translate(390.80px,283.68px) rotate(0.04deg) scale(0.905,1)">0</div>
<div class="c d" style="width:33.81px;height:10px;line-height:10px;transform:translate(424.40px,283.68px) rotate(0.04deg) scale(0.905,1)">0</div>
<div class="c d" style="width:43.31px;height:10px;line-height:10px;transform:translate(455.00px,283.68px) rotate(0.04deg) scale(0.905,1)">0</div>
<div class="c b" style="width:48.61px;height:10px;line-height:10px;transform:translate(494.20px,282.40px) rotate(0.04deg) scale(1.045,1)">0</div>
<div class="c d" style="width:85.08px;height:10px;line-height:10px;transform:translate(545.00px,283.68px) rotate(0.04deg) scale(0.905,1)">34</div>
<div class="c d" style="width:85.08px;height:10px;line-height:10px;transform:translate(622.00px,283.68px) rotate(0.04deg) scale(0.905,1)">39</div>
<div class="c b" style="width:42.58px;height:10px;line-height:10px;transform:translate(699.00px,282.40px) rotate(0.04deg) scale(1.045,1)">73</div>
<div class="c b" style="width:50.91px;height:10px;line-height:10px;transform:translate(743.50px,282.40px) rotate(0.04deg) scale(1.045,1)">86</div>
<div class="c d" style="width:83.43px;height:10px;line-height:10px;transform:translate(5.00px,297.81px) rotate(0.04deg) scale(0.905,1)">12-Sep</div>
<div class="c d" style="width:41.71px;height:10px;line-height:10px;transform:translate(80.50px,297.81px) rotate(0.04deg) scale(0.905,1)">10</div>
<div class="c d" style="width:57.62px;height:10px;line-height:10px;transform:translate(118.25px,297.81px) rotate(0.04deg) scale(0.905,1)">0</div>
<div class="c d" style="width:48.84px;height:10px;line-height:10px;transform:translate(170.40px,297.81px) rotate(0.04deg) scale(0.905,1)">10</div>
<div class="c d" style="width:40.22px;height:10px;line-height:10px;transform:translate(214.60px,297.81px) rotate(0.04deg) scale(0.905,1)">0</div>
<div class="c d" style="width:36.69px;height:10px;line-height:10px;transform:translate(251.00px,297.81px) rotate(0.04deg) scale(0.905,1)">1</div>
<div class="c d" style="width:34.03px;height:10px;line-height:10px;transform:translate(284.20px,297.81px) rotate(0.04deg) scale(0.905,1)">0</div>
<div class="c d" style="width:42.87px;height:10px;line-height:10px;transform:translate(315.00px,297.81px) rotate(0.04deg) scale(0.905,1)">1</div>
<div class="c d" style="width:40.88px;height:10px;line-height:10px;transform:translate(353.80px,297.81px) rotate(0.04deg) scale(0.905,1)">1</div>
<div class="c d" style="width:37.13px;height:10px;line-height:10px;transform:translate(390.80px,297.81px) rotate(0.04deg) scale(0.905,1)">2</div>
<div class="c d" style="width:33.81px;height:10px;line-height:10px;transform:translate(424.40px,297.81px) rotate(0.04deg) scale(0.905,1)">0</div>
<div class="c d" style="width:43.31px;height:10px;line-height:10px;transform:translate(455.00px,297.81px) rotate(0.04deg) scale(0.905,1)">3</div>
<div class="c b" style="width:48.61px;height:10px;line-height:10px;transform:translate(494.20px,296.53px) rotate(0.04deg) scale(1.045,1)">4</div>
<div class="c d" style="width:85.08px;height:10px;line-height:10px;transform:translate(545.00px,297.81px) rotate(0.04deg) scale(0.905,1)">16</div>
<div class="c d" style="width:85.08px;height:10px;line-height:10px;transform:translate(622.00px,297.81px) rotate(0.04deg) scale(0.905,1)">12</div>
<div class="c b" style="width:42.58px;height:10px;line-height:10px;transform:translate(699.00px,296.53px) rotate(0.04deg) scale(1.045,1)">28</div>
<div class="c b" style="width:50.91px;height:10px;line-height:10px;transform:translate(743.50px,296.53px) rotate(0.04deg) scale(1.045,1)">42</div>
<div class="c d" style="width:83.43px;height:26px;line-height:13px;transform:translate(5.00px,309.23px) rotate(0.04deg) scale(0.905,1)">Total since start of<br>outbreak</div>
<div class="c d" style="width:41.71px;height:10px;line-height:10px;transform:translate(80.50px,317.13px) rotate(0.04deg) scale(0.905,1)">711</div>
<div class="c d" style="width:57.62px;height:10px;line-height:10px;transform:translate(118.25px,317.13px) rotate(0.04deg) scale(0.905,1)">272</div>
<div class="c d" style="width:48.84px;height:10px;line-height:10px;transform:translate(170.40px,317.13px) rotate(0.04deg) scale(0.905,1)">983</div>
<div class="c d" style="width:40.22px;height:10px;line-height:10px;transform:translate(214.60px,317.13px) rotate(0.04deg) scale(0.905,1)">363</div>
<div class="c d" style="width:36.69px;height:10px;line-height:10px;transform:translate(251.00px,317.13px) rotate(0.04deg) scale(0.905,1)">258</div>
<div class="c d" style="width:34.03px;height:10px;line-height:10px;transform:translate(284.20px,317.13px) rotate(0.04deg) scale(0.905,1)">1</div>
<div class="c d" style="width:42.87px;height:10px;line-height:10px;transform:translate(315.00px,317.13px) rotate(0.04deg) scale(0.905,1)">622</div>
<div class="c d" style="width:40.88px;height:10px;line-height:10px;transform:translate(353.80px,317.13px) rotate(0.04deg) scale(0.905,1)">986</div>
<div class="c d" style="width:37.13px;height:10px;line-height:10px;transform:translate(390.80px,317.13px) rotate(0.04deg) scale(0.905,1)">620</div>
<div class="c d" style="width:33.81px;height:10px;line-height:10px;transform:translate(424.40px,317.13px) rotate(0.04deg) scale(0.905,1)">9</div>
<div class="c d" style="width:43.31px;height:10px;line-height:10px;transform:translate(455.00px,317.13px) rotate(0.04deg) scale(0.905,1)">1,615</div>
<div class="c b" style="width:48.61px;height:10px;line-height:10px;transform:translate(494.20px,315.85px) rotate(0.04deg) scale(1.045,1)">2,237</div>
<div class="c b" style="width:42.58px;height:10px;line-height:10px;transform:translate(699.00px,315.85px) rotate(0.04deg) scale(1.045,1)">54,137</div>
<div class="c b" style="width:50.91px;height:10px;line-height:10px;transform:translate(743.50px,315.85px) rotate(0.04deg) scale(1.045,1)">57,357</div>
<div class="c d" style="width:83.43px;height:10px;line-height:10px;transform:translate(5.00px,338.43px) rotate(0.04deg) scale(0.905,1)">Population at risk</div>
<div class="c b" style="width:48.61px;height:10px;line-height:10px;transform:translate(494.20px,337.15px) rotate(0.04deg) scale(1.045,1)">5,381,000</div>
<div class="c b" style="width:42.58px;height:10px;line-height:10px;transform:translate(699.00px,337.15px) rotate(0.04deg) scale(1.045,1)">323,000</div>
<div class="c b" style="width:50.91px;height:10px;line-height:10px;transform:translate(743.50px,337.15px) rotate(0.04deg) scale(1.045,1)">5,704,000</div>
<div class="c d" style="width:83.43px;height:10px;line-height:10px;transform:translate(5.00px,352.13px) rotate(0.04deg) scale(0.905,1)">Prevalence</div>
<div class="c b" style="width:48.61px;height:10px;line-height:10px;transform:translate(494.20px,350.85px) rotate(0.04deg) scale(1.045,1)">0.04%</div>
<div class="c b" style="width:42.58px;height:10px;line-height:10px;transform:translate(699.00px,350.85px) rotate(0.04deg) scale(1.045,1)">16.76%</div>
<div class="c b" style="width:50.91px;height:10px;line-height:10px;transform:translate(743.50px,350.85px) rotate(0.04deg) scale(1.045,1)">1.01%</div>
<div class="scroll"></div><div class="al"></div><div class="ar"></div>
<div class="fn" style="transform:translate(5.2px,375.00px) rotate(0.02deg)">*Foreigners holding long-term passes are assigned the letter 'F' or 'G' depending on date of issue.</div>
<div class="fn" style="transform:translate(5.2px,395.60px) rotate(0.02deg)">^Population at risk for community cases includes SC/PRs and work pass holders not residing in dormitories.</div>
</div>
<svg width="800" height="409" viewBox="0 0 800 409" style="position:absolute;left:0;top:0"><g fill="#999" transform="translate(0.5 0.9)"><path d="M631.2 361.6c-5.9 0-10.6 3.9-10.6 8.8 0 2.7 1.5 5.1 3.8 6.7l-1.1 3.3 3.8-2c1.3 0.4 2.6 0.7 4.1 0.7 5.9 0 10.6-3.9 10.6-8.7 0-4.900-4.700-8.800-10.600-8.800z"/><path d="M641.9 367.4c-5 0-9.100 3.500-9.100 7.800s4.100 7.800 9.100 7.800c1.100 0 2.200-0.200 3.200-0.500l3.300 1.900-0.900-2.900c2.100-1.400 3.500-3.700 3.500-6.300 0-4.300-4.100-7.800-9.100-7.800z"/></g><path d="M631.2 361.6c-5.9 0-10.6 3.9-10.6 8.8 0 2.7 1.5 5.1 3.8 6.7l-1.1 3.3 3.8-2c1.3 0.4 2.6 0.7 4.1 0.7 5.9 0 10.6-3.9 10.6-8.7 0-4.900-4.700-8.800-10.600-8.800z" fill="#fff" stroke="#b4b4b4" stroke-width="0.5"/><path d="M641.9 367.4c-5 0-9.100 3.500-9.100 7.800s4.100 7.800 9.100 7.800c1.100 0 2.200-0.200 3.200-0.500l3.300 1.900-0.900-2.900c2.100-1.400 3.500-3.700 3.500-6.300 0-4.300-4.100-7.800-9.100-7.800z" fill="#fff" stroke="#a0a0a0" stroke-width="0.7"/><g fill="#b4b4b4"><circle cx="627.3" cy="365.6" r="0.95"/><circle cx="635.6" cy="365.4" r="0.95"/><circle cx="638.5" cy="372.6" r="0.85"/><circle cx="645" cy="372.6" r="0.85"/></g><g fill="#979797" transform="translate(0.7 0.7)"><text x="655.3" y="381.4" font-size="19.9" font-family="&quot;Liberation Sans&quot;, &quot;Noto Sans CJK SC&quot;, sans-serif">新加坡华人圈</text></g><g fill="#fff" stroke="#acacac" stroke-width="0.48"><text x="655.3" y="381.4" font-size="19.9" font-family="&quot;Liberation Sans&quot;, &quot;Noto Sans CJK SC&quot;, sans-serif">新加坡华人圈</text></g></svg>
</body></html>
